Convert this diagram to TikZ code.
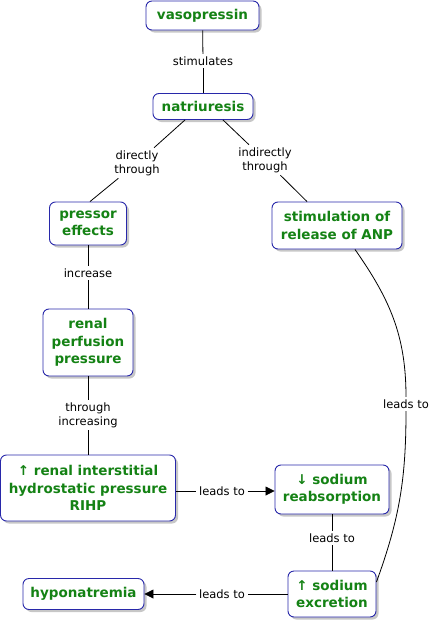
\documentclass[tikz,border=0pt]{standalone}
\usepackage{fontspec}
\setmainfont{DejaVu Sans}
\usetikzlibrary{arrows.meta,shadows}
\definecolor{cgreen}{RGB}{20,130,20}
\definecolor{cblue}{RGB}{40,40,170}
\tikzset{
  concept/.style={draw=cblue, line width=0.9pt, rounded corners=6pt, fill=white,
    text=cgreen, font=\fontsize{13.5}{17.5}\selectfont\bfseries, align=center,
    inner sep=0pt, drop shadow={shadow xshift=2.5pt, shadow yshift=-2.5pt, fill=black!22, opacity=1}},
  lbl/.style={font=\fontsize{11.5}{14}\selectfont, align=center, inner sep=2.5pt, fill=white, text=black},
  conn/.style={line width=0.8pt, black},
  arr/.style={conn, -{Triangle[length=9pt,width=9pt]}}
}
\begin{document}
\begin{tikzpicture}[x=1pt,y=-1pt]
\useasboundingbox (0,0) rectangle (433,624);
% concepts
\node[concept, minimum width=113pt, minimum height=29pt] (vas) at (202.5,15.5) {vasopressin};
\node[concept, minimum width=100pt, minimum height=26pt] (nat) at (203,106.5) {natriuresis};
\node[concept, minimum width=77pt, minimum height=43pt] (pres) at (88,223.5) {pressor\\effects};
\node[concept, minimum width=130pt, minimum height=47pt] (anp) at (337,225.5) {stimulation of\\release of ANP};
\node[concept, minimum width=90pt, minimum height=67pt] (rpp) at (88,342.5) {renal\\perfusion\\pressure};
\node[concept, minimum width=175pt, minimum height=66pt] (rihp) at (88,488) {↑ renal interstitial\\hydrostatic pressure\\RIHP};
\node[concept, minimum width=114pt, minimum height=49pt] (reab) at (332,489.5) {↓ sodium\\reabsorption};
\node[concept, minimum width=88pt, minimum height=46pt] (exc) at (332,594) {↑ sodium\\excretion};
\node[concept, minimum width=121pt, minimum height=31pt] (hypo) at (83.5,594) {hyponatremia};
% labels
\node[lbl] (l1) at (203,61) {stimulates};
\node[lbl] (l2) at (137,163) {directly\\through};
\node[lbl] (l3) at (265,160) {indirectly\\through};
\node[lbl] (l4) at (88,273) {increase};
\node[lbl] (l5) at (88,415) {through\\increasing};
\node[lbl] (l6) at (222,491) {leads to};
\node[lbl] (l7) at (332,538) {leads to};
\node[lbl] (l8) at (222,594) {leads to};
\node[lbl] (l9) at (406,404) {leads to};
% connectors
\draw[conn] (vas) -- (l1); \draw[conn] (l1) -- (nat);
\draw[conn] ([xshift=-18pt]nat.south) -- (l2); \draw[conn] (l2) -- ([xshift=2pt]pres.north);
\draw[conn] ([xshift=20pt]nat.south) -- (l3); \draw[conn] (l3) -- ([xshift=-30pt]anp.north);
\draw[conn] (pres) -- (l4); \draw[conn] (l4) -- (rpp);
\draw[conn] (rpp) -- (l5); \draw[conn] (l5) -- (rihp.north);
\draw[conn] (rihp.east |- l6) -- (l6); \draw[arr] (l6) -- (reab.west |- l6);
\draw[conn] (reab) -- (l7); \draw[conn] (l7) -- (exc);
\draw[conn] (exc.west |- l8) -- (l8); \draw[arr] (l8) -- (hypo.east |- l8);
\draw[conn] ([xshift=18pt]anp.south) to[out=-55,in=90] (l9.north);
\draw[conn] (l9.south) to[out=-90,in=70] ([yshift=12pt]exc.east);
\end{tikzpicture}
\end{document}
